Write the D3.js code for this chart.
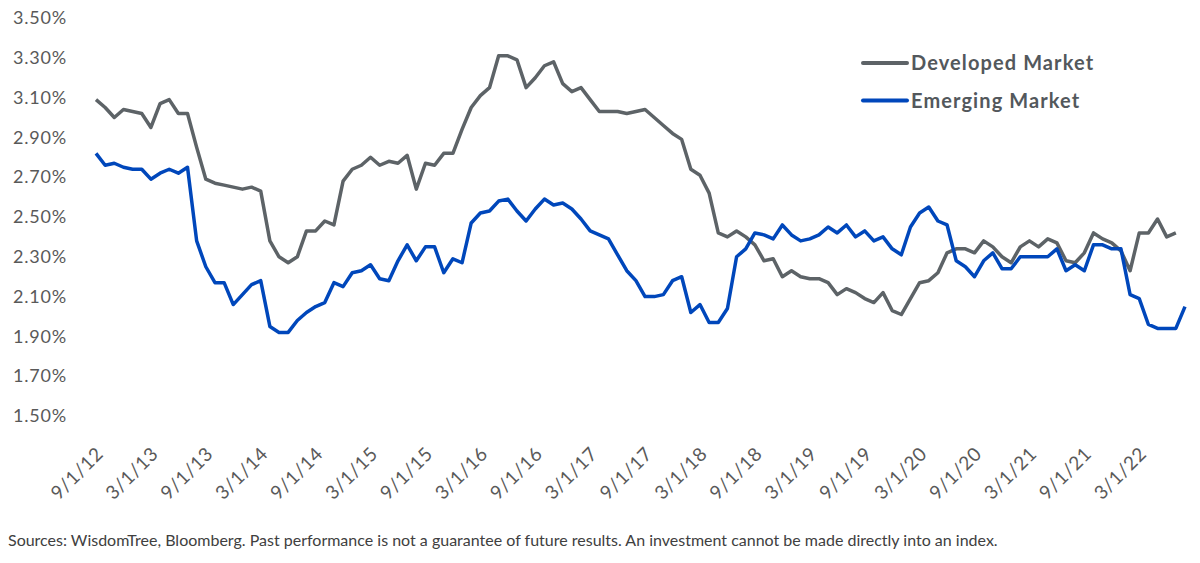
<!DOCTYPE html>
<html>
<head>
<meta charset="utf-8">
<script src="https://cdn.jsdelivr.net/npm/d3@7/dist/d3.min.js"></script>
<style>
body { margin: 0; background: #fff; }
svg text { font-family: Lato, "Open Sans", sans-serif; }
</style>
</head>
<body>
<svg id="chart" width="1200" height="563"></svg>
<script>
// monthly dividend yields, first point is 9/1/12
var startMonth = new Date(2012, 8, 1);

var developed = [
    3.09, 3.05, 3.00, 3.04, 3.03, 3.02, 2.95, 3.07, 3.09, 3.02, 3.02, 2.85,
    2.69, 2.67, 2.66, 2.65, 2.64, 2.65, 2.63, 2.38, 2.30, 2.27, 2.30, 2.43,
    2.43, 2.48, 2.46, 2.68, 2.74, 2.76, 2.80, 2.76, 2.78, 2.77, 2.81, 2.64,
    2.77, 2.76, 2.82, 2.82, 2.94, 3.05, 3.11, 3.15, 3.31, 3.31, 3.29, 3.15,
    3.20, 3.26, 3.28, 3.17, 3.13, 3.15, 3.09, 3.03, 3.03, 3.03, 3.02, 3.03,
    3.04, 3.00, 2.96, 2.92, 2.89, 2.74, 2.71, 2.62, 2.42, 2.40, 2.43, 2.40,
    2.36, 2.28, 2.29, 2.20, 2.23, 2.20, 2.19, 2.19, 2.17, 2.11, 2.14, 2.12,
    2.09, 2.07, 2.12, 2.03, 2.01, 2.09, 2.17, 2.18, 2.22, 2.32, 2.34, 2.34,
    2.32, 2.38, 2.35, 2.30, 2.27, 2.35, 2.38, 2.35, 2.39, 2.37, 2.28, 2.27,
    2.32, 2.42, 2.39, 2.37, 2.33, 2.23, 2.42, 2.42, 2.49, 2.40, 2.42
];

var emerging = [
    2.82, 2.76, 2.77, 2.75, 2.74, 2.74, 2.69, 2.72, 2.74, 2.72, 2.75, 2.38,
    2.25, 2.17, 2.17, 2.06, 2.11, 2.16, 2.18, 1.95, 1.92, 1.92, 1.98, 2.02,
    2.05, 2.07, 2.17, 2.15, 2.22, 2.23, 2.26, 2.19, 2.18, 2.28, 2.36, 2.28,
    2.35, 2.35, 2.22, 2.29, 2.27, 2.47, 2.52, 2.53, 2.58, 2.59, 2.53, 2.48,
    2.54, 2.59, 2.56, 2.57, 2.54, 2.49, 2.43, 2.41, 2.39, 2.31, 2.23, 2.18,
    2.10, 2.10, 2.11, 2.18, 2.20, 2.02, 2.06, 1.97, 1.97, 2.04, 2.30, 2.34,
    2.42, 2.41, 2.39, 2.46, 2.41, 2.38, 2.39, 2.41, 2.45, 2.42, 2.46, 2.40,
    2.43, 2.38, 2.40, 2.34, 2.31, 2.45, 2.52, 2.55, 2.48, 2.46, 2.28, 2.25,
    2.20, 2.28, 2.32, 2.24, 2.24, 2.30, 2.30, 2.30, 2.30, 2.34, 2.23, 2.26,
    2.23, 2.36, 2.36, 2.34, 2.34, 2.11, 2.09, 1.96, 1.94, 1.94, 1.94, 2.05
];

var yTicks = [1.5, 1.7, 1.9, 2.1, 2.3, 2.5, 2.7, 2.9, 3.1, 3.3, 3.5];

var xTickLabels = ["9/1/12", "3/1/13", "9/1/13", "3/1/14", "9/1/14", "3/1/15", "9/1/15",
    "3/1/16", "9/1/16", "3/1/17", "9/1/17", "3/1/18", "9/1/18", "3/1/19", "9/1/19",
    "3/1/20", "9/1/20", "3/1/21", "9/1/21", "3/1/22"];

var seriesNames = ["Developed Market", "Emerging Market"];
var seriesColors = ["#5d6367", "#0047bb"];

var sourceNote = "Sources: WisdomTree, Bloomberg. Past performance is not a guarantee of future results. An investment cannot be made directly into an index.";

var svg = d3.select("#chart");
var fmt = d3.timeFormat("%-m/%-d/%y");

// category axis, one slot per month
var months = d3.range(emerging.length).map(function(i) { return fmt(d3.timeMonth.offset(startMonth, i)); });

var x = d3.scalePoint().domain(months).range([96, 1185]);
var y = d3.scaleLinear().domain([1.5, 3.5]).range([416, 18]);

//y axis, labels only
var yAxis = svg.append("g")
    .attr("transform", "translate(70,0)")
    .call(d3.axisLeft(y).tickValues(yTicks).tickSize(0).tickPadding(3)
        .tickFormat(function(d) { return d.toFixed(2) + "%"; }));
yAxis.select(".domain").remove();
yAxis.selectAll("text")
    .attr("fill", "#595959")
    .style("font-size", "18px")
    .style("letter-spacing", "0.8px");

//x axis, rotated date labels
var xAxis = svg.append("g")
    .attr("transform", "translate(0,440)")
    .call(d3.axisBottom(x).tickValues(xTickLabels).tickSize(0));
xAxis.select(".domain").remove();
xAxis.selectAll("text")
    .attr("fill", "#595959")
    .attr("text-anchor", "end")
    .attr("dy", null)
    .attr("y", 0)
    .attr("transform", "translate(8,15) rotate(-45)")
    .style("font-size", "19px")
    .style("letter-spacing", "0.6px");

var line = d3.line()
    .x(function(d, i) { return x(months[i]); })
    .y(function(d) { return y(d); });

var seriesData = [developed, emerging];

svg.selectAll(".series")
    .data(seriesData)
    .enter()
    .append("path")
    .attr("class", "series")
    .attr("d", line)
    .attr("fill", "none")
    .attr("stroke", function(d, i) { return seriesColors[i]; })
    .attr("stroke-width", 3.5)
    .attr("stroke-linejoin", "round");

// legend
var legend = svg.selectAll(".legend")
    .data(seriesNames)
    .enter()
    .append("g")
    .attr("class", "legend")
    .attr("transform", function(d, i) { return "translate(863," + (63 + i * 37.5) + ")"; });

legend.append("line")
    .attr("x1", 0).attr("x2", 44)
    .attr("stroke", function(d, i) { return seriesColors[i]; })
    .attr("stroke-width", 4)
    .attr("stroke-linecap", "round");

legend.append("text")
    .attr("x", 48)
    .attr("dy", "0.36em")
    .attr("fill", "#53585c")
    .style("font-size", "20px")
    .style("font-weight", "bold")
    .style("letter-spacing", "1.1px")
    .text(function(d) { return d; });

svg.append("text")
    .attr("x", 8)
    .attr("y", 546)
    .attr("fill", "#404040")
    .style("font-size", "16px")
    .text(sourceNote);
</script>
</body>
</html>
